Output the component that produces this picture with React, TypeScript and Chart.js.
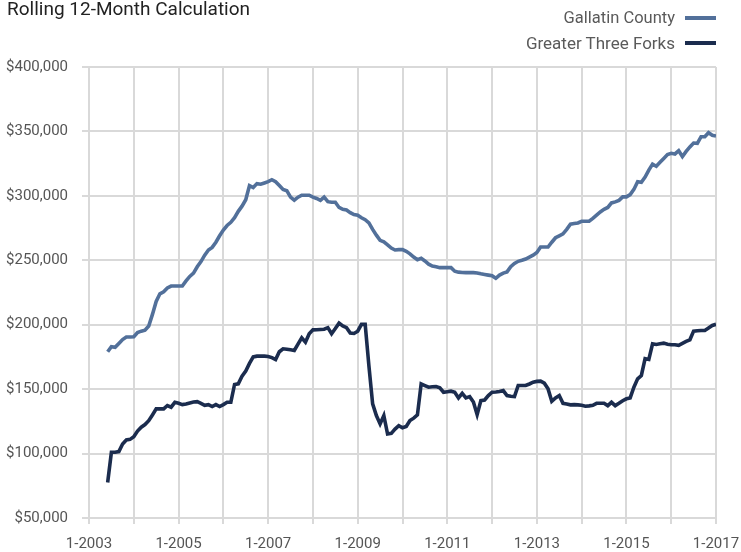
import React, { useEffect, useRef } from 'react';
import { Chart, registerables } from 'chart.js';

Chart.register(...registerables);

const chartTitle = 'Rolling 12-Month Calculation';
const seriesNames = ['Gallatin County', 'Greater Three Forks'];
const seriesColors = ['#52709a', '#1b2c4e'];

// Monthly rolling values, June 2003 through January 2017
const firstYear = 2003;
const firstMonth = 6;

const gallatinCounty = [
  179000, 183000, 182500, 185500, 188500, 190500, 190500,
  190700, 194000, 195000, 195800, 199000, 208000, 218000, 224000, 225500, 228500, 230000, 230000,
  230000, 230000, 234000, 237500, 240000, 245000, 249000, 254000, 258000, 260000, 264000, 269000,
  273500, 277000, 279500, 283000, 288000, 292000, 297000, 308000, 306500, 309500, 309000, 310000,
  311000, 312500, 311000, 308000, 305000, 304000, 299000, 296700, 299000, 300500, 300500, 300500,
  299000, 298000, 296500, 299000, 295500, 295000, 295000, 291000, 289500, 289000, 287000, 285500,
  285000, 283000, 281500, 279000, 274000, 269500, 265500, 264300, 262000, 259500, 258000, 258300,
  258300, 257000, 255000, 252500, 250500, 251500, 249500, 247000, 245500, 245000, 244300, 244300,
  244300, 244300, 241500, 240800, 240500, 240400, 240400, 240400, 240200, 239500, 239000, 238500,
  238000, 236000, 238500, 240000, 241000, 245000, 247500, 249200, 250000, 251000, 252500, 254000,
  256000, 260300, 260300, 260300, 264000, 267500, 269000, 270500, 274000, 278000, 278500, 279000,
  280300, 280300, 280300, 282500, 285000, 287500, 289500, 291000, 294500, 295300, 296500, 299200,
  299200, 301000, 305000, 311000, 310500, 314500, 320000, 324600, 323000, 326000, 329000, 332000,
  333000, 332500, 335000, 330500, 334500, 338000, 341000, 340700, 345900, 345900, 349000, 347000,
  346400,
];

const greaterThreeForks = [
  77500, 101000, 101000, 101500, 107500, 110600, 111000,
  113000, 117500, 120500, 122500, 125500, 130000, 134700, 134700, 134700, 137300, 136000, 139800,
  139000, 138000, 138500, 139300, 140000, 140300, 139000, 137500, 138000, 136500, 138000, 136500,
  138000, 139800, 139800, 153600, 154100, 160000, 164000, 170000, 175000, 175600, 175600, 175600,
  175400, 174500, 173000, 179000, 181300, 181000, 180500, 180000, 185000, 189900, 186500, 193000,
  196000, 196100, 196300, 196500, 197700, 193000, 197000, 201200, 199000, 197700, 193500, 193200,
  195000, 200300, 200300, 168000, 138600, 129500, 123000, 129500, 115200, 115700, 119000, 121700,
  120000, 121000, 125600, 127500, 130000, 154100, 152800, 151500, 151800, 152000, 151000, 147600,
  148000, 148400, 147600, 143200, 146800, 143200, 144200, 140000, 130200, 141100, 141600, 145000,
  147600, 147800, 148100, 148900, 145000, 144500, 144200, 152800, 152800, 152800, 154000, 155400,
  156000, 156200, 154600, 150200, 140600, 143200, 145000, 139000, 138500, 137800, 138000, 137800,
  137500, 136700, 137000, 137500, 139000, 139000, 139000, 137200, 139800, 137200, 139000, 141000,
  142500, 143200, 151500, 158000, 160600, 173600, 173000, 185200, 184700, 185200, 185700, 184800,
  184400, 184400, 184000, 185500, 187000, 188300, 195000, 195300, 195500, 195600, 197500, 199400,
  200300,
];

// Month labels ("M-YYYY") for each value
const monthLabels = gallatinCounty.map((_, i) => {
  const t = firstMonth - 1 + i;
  return `${(t % 12) + 1}-${firstYear + Math.floor(t / 12)}`;
});

const yMin = 50000;
const yMax = 400000;
const yStep = 50000;
const xFirstYear = 2003;
const xLastYear = 2017;

const FONT = "Roboto, 'Liberation Sans', Arial, sans-serif";

function monthIndex(label: string): number {
  const [m, y] = label.split('-').map(Number);
  return (y - xFirstYear) * 12 + (m - 1);
}

export default function App() {
  const canvasRef = useRef<HTMLCanvasElement | null>(null);

  useEffect(() => {
    document.body.style.margin = '0';
    const canvas = canvasRef.current;
    if (!canvas) return;
    const toPoints = (vals: number[]) =>
      vals.map((v, i) => ({ x: monthIndex(monthLabels[i]), y: v }));

    const chart = new Chart(canvas, {
      type: 'line',
      data: {
        datasets: [
          {
            label: seriesNames[0],
            data: toPoints(gallatinCounty),
            borderColor: seriesColors[0],
            backgroundColor: seriesColors[0],
            borderWidth: 3.6,
            pointRadius: 0,
            tension: 0,
            fill: false,
          },
          {
            label: seriesNames[1],
            data: toPoints(greaterThreeForks),
            borderColor: seriesColors[1],
            backgroundColor: seriesColors[1],
            borderWidth: 3.6,
            pointRadius: 0,
            tension: 0,
            fill: false,
          },
        ],
      },
      options: {
        animation: false,
        responsive: false,
        maintainAspectRatio: false,
        layout: { padding: { left: 0, right: 25, top: 67, bottom: 0 } },
        plugins: {
          legend: { display: false },
          title: { display: false },
          tooltip: { enabled: false },
        },
        scales: {
          x: {
            type: 'linear',
            min: 0,
            max: (xLastYear - xFirstYear) * 12,
            afterFit: (scale: any) => {
              scale.height = 34;
              scale.paddingLeft = 0;
              scale.paddingRight = 0;
            },
            afterBuildTicks: (scale: any) => {
              const ticks = [];
              for (let yr = xFirstYear; yr <= xLastYear; yr++) {
                ticks.push({ value: (yr - xFirstYear) * 12 });
              }
              scale.ticks = ticks;
            },
            ticks: {
              autoSkip: false,
              maxRotation: 0,
              minRotation: 0,
              padding: 11,
              color: '#555555',
              font: { family: FONT, size: 15 },
              callback: (v: any) => {
                const yr = xFirstYear + Number(v) / 12;
                return (yr - xFirstYear) % 2 === 0 ? `1-${yr}` : '';
              },
            },
            grid: {
              color: '#d9d9d9',
              lineWidth: 2,
              drawTicks: true,
              tickLength: 6,
            },
            border: { display: false },
          },
          y: {
            min: yMin,
            max: yMax,
            afterFit: (scale: any) => {
              scale.width = 89;
            },
            ticks: {
              stepSize: yStep,
              padding: 14,
              color: '#555555',
              font: { family: FONT, size: 15 },
              callback: (v: any) => '$' + Number(v).toLocaleString('en-US'),
            },
            grid: {
              color: '#d9d9d9',
              lineWidth: 2,
              drawTicks: true,
              tickLength: 7,
            },
            border: { display: false },
          },
        },
      },
    });
    return () => chart.destroy();
  }, []);

  const legendRow = (name: string, color: string, top: number, size: number) => (
    <div
      key={name}
      style={{
        position: 'absolute',
        right: 741 - 716,
        top,
        display: 'flex',
        alignItems: 'center',
        fontFamily: FONT,
        fontSize: size,
        lineHeight: '20px',
        color: '#5a5a5a',
        whiteSpace: 'nowrap',
      }}
    >
      <span>{name}</span>
      <span
        style={{
          display: 'inline-block',
          width: 31,
          height: 4,
          background: color,
          marginLeft: 10,
        }}
      />
    </div>
  );

  return (
    <div style={{ position: 'fixed', left: 0, top: 0, width: 741, height: 552, background: '#ffffff' }}>
      <canvas ref={canvasRef} width={741} height={552} style={{ position: 'absolute', left: 0, top: 0 }} />
      <div
        style={{
          position: 'absolute',
          left: 7,
          top: -2,
          fontFamily: FONT,
          fontSize: 19,
          lineHeight: '22px',
          color: '#222222',
          whiteSpace: 'nowrap',
        }}
      >
        {chartTitle}
      </div>
      {legendRow(seriesNames[0], seriesColors[0], 8, 16.5)}
      {legendRow(seriesNames[1], seriesColors[1], 33, 17)}
    </div>
  );
}
